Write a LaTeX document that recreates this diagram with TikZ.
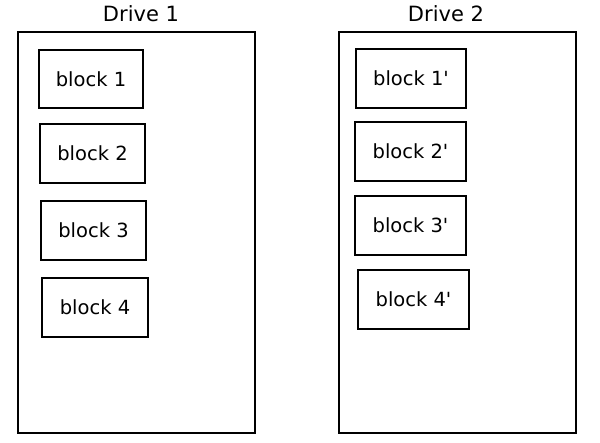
\documentclass[tikz,border=0pt]{standalone}
\usepackage{fontspec}
\setmainfont{DejaVu Sans}
\usetikzlibrary{positioning}
\tikzset{
	drivebox/.style={draw, line width=2.6pt, inner sep=0pt},
	blockbox/.style={draw, line width=2.6pt, inner sep=0pt, minimum height=59pt,
		font=\fontsize{19.5}{21}\selectfont},
	drivelabel/.style={font=\fontsize{21}{23}\selectfont, inner sep=0pt}
}

\begin{document}
\begin{tikzpicture}[x=1pt, y=-1pt]
			%%%%% START %%%%%
			
			\useasboundingbox (0, 0) rectangle (600, 442);
			
			\node[drivebox, minimum width=237pt, minimum height=401pt] (drive1) at (136.5, 232.5) {};
			\node[drivebox, minimum width=237pt, minimum height=401pt] (drive2) at (457.5, 232.5) {};
			
			\node[drivelabel] (label1) at (141, 14) {Drive 1};
			\node[drivelabel] (label2) at (446, 14) {Drive 2};
			
			\node[blockbox, minimum width=104pt, minimum height=58pt] (blockA) at (91, 79) {block 1};
			\node[blockbox, minimum width=105pt] (blockB) at (92.5, 153.5) {block 2};
			\node[blockbox, minimum width=105pt] (blockC) at (93.5, 230.5) {block 3};
			\node[blockbox, minimum width=106pt] (blockD) at (95, 307.5) {block 4};
			
			\node[blockbox, minimum width=110pt] (copyA) at (411, 78.5) {block 1\textquotesingle};
			\node[blockbox, minimum width=111pt] (copyB) at (410.5, 151.5) {block 2\textquotesingle};
			\node[blockbox, minimum width=111pt] (copyC) at (410.5, 225.5) {block 3\textquotesingle};
			\node[blockbox, minimum width=111pt] (copyD) at (413.5, 299.5) {block 4\textquotesingle};
			
			%%%%% END %%%%%
\end{tikzpicture}
\end{document}
